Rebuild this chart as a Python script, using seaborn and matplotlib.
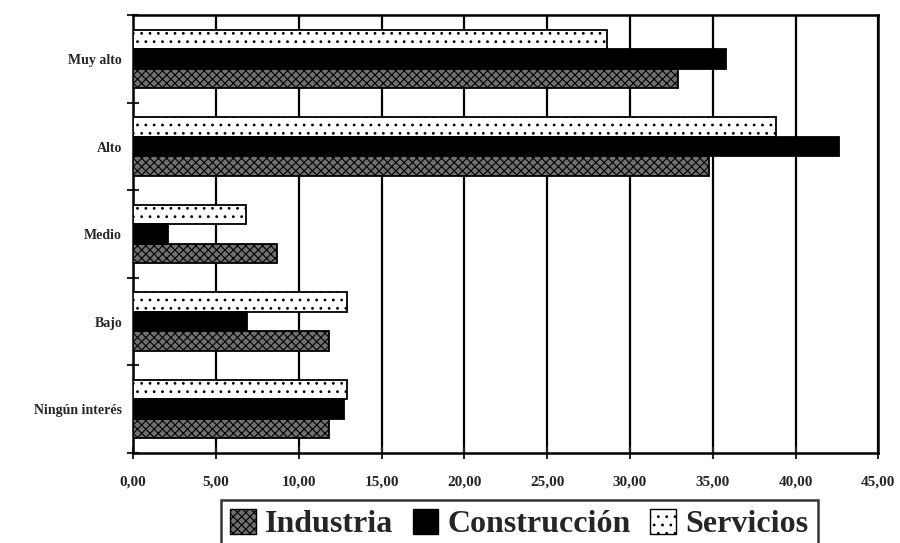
import pandas as pd
import matplotlib
matplotlib.use("Agg")
import matplotlib.pyplot as plt
import matplotlib.ticker as mticker
from matplotlib.patches import Patch
import seaborn as sns

# Data
categorias = ["Muy alto", "Alto", "Medio", "Bajo", "Ningún interés"]
industria = [32.9, 34.8, 8.7, 11.8, 11.8]
construccion = [35.8, 42.6, 2.1, 6.9, 12.7]
servicios = [28.6, 38.8, 6.8, 12.9, 12.9]
x_ticks = [0, 5, 10, 15, 20, 25, 30, 35, 40, 45]

df = pd.DataFrame({
    "Categoria": categorias * 3,
    "Sector": ["Industria"] * 5 + ["Construcción"] * 5 + ["Servicios"] * 5,
    "Valor": industria + construccion + servicios,
})

sns.set_style("white")
plt.rcParams["font.family"] = ["Liberation Serif", "DejaVu Serif"]
plt.rcParams["hatch.linewidth"] = 0.8

estilos = {
    "Industria": dict(face="#707070", hatch="xxxx"),
    "Construcción": dict(face="black", hatch=""),
    "Servicios": dict(face="white", hatch=".."),
}
orden = ["Servicios", "Construcción", "Industria"]  # top to bottom inside a group

fig = plt.figure(figsize=(9, 5.43), dpi=100)
ax = fig.add_axes([0.148, 0.166, 0.828, 0.806])

sns.barplot(data=df, y="Categoria", x="Valor", hue="Sector", hue_order=orden,
            order=categorias, orient="h", width=0.67, gap=0,
            palette={k: v["face"] for k, v in estilos.items()},
            saturation=1, legend=False, ax=ax, zorder=3)

for cont, sector in zip(ax.containers, orden):
    for bar in cont:
        bar.set_edgecolor("black")
        bar.set_linewidth(1.3)
        bar.set_hatch(estilos[sector]["hatch"])

ax.set_xlim(0, 45)
ax.set_ylim(len(categorias) - 0.5, -0.5)
ax.set_xticks(x_ticks)
ax.xaxis.set_major_formatter(mticker.FuncFormatter(lambda v, p: f"{v:.2f}".replace(".", ",")))
ax.grid(axis="x", color="black", linewidth=1.6, zorder=0)
ax.set_axisbelow(True)
ax.set_xlabel("")
ax.set_ylabel("")

# category separators as minor ticks
ax.set_yticks([i - 0.5 for i in range(len(categorias) + 1)], minor=True)
ax.tick_params(axis="y", which="major", length=0, pad=8, labelsize=10)
ax.tick_params(axis="y", which="minor", length=8, width=1.5, direction="inout", left=True)
ax.tick_params(axis="x", length=8, width=1.5, direction="inout", bottom=True, pad=12, labelsize=11)
for lab in ax.get_yticklabels() + ax.get_xticklabels():
    lab.set_fontweight("bold")

for s in ax.spines.values():
    s.set_color("black")
    s.set_linewidth(1.8)

handles = [Patch(facecolor=estilos[k]["face"], edgecolor="black",
                 hatch=estilos[k]["hatch"], label=k)
           for k in ["Industria", "Construcción", "Servicios"]]
leg = fig.legend(handles=handles, loc="upper center", bbox_to_anchor=(0.577, 0.08),
                 ncol=3, frameon=True, fancybox=False, edgecolor="black",
                 prop={"family": "Liberation Serif", "weight": "bold", "size": 23},
                 handlelength=0.8, handleheight=0.8, handletextpad=0.3,
                 columnspacing=0.6, borderpad=0.3, borderaxespad=0)
leg.get_frame().set_linewidth(1.8)

fig.savefig("out.png", dpi=100)
